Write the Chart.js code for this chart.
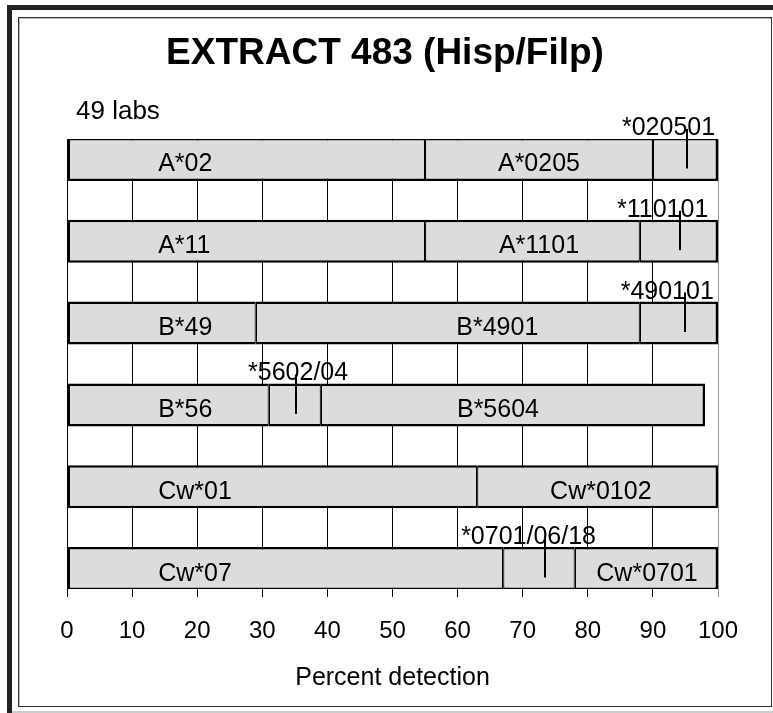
<!doctype html>
<html lang="en">
<head>
<meta charset="UTF-8">
<title>EXTRACT 483 (Hisp/Filp)</title>
<script src="https://cdn.jsdelivr.net/npm/chart.js"></script>
<style>
  html, body { margin: 0; padding: 0; background: #fff; }
  canvas { display: block; }
</style>
</head>
<body>
<canvas id="chart" width="773" height="713"></canvas>
<script>
  const FONT = "'Liberation Sans', Arial, sans-serif";

  const rows = ['A*02', 'A*11', 'B*49', 'B*56', 'Cw*01', 'Cw*07'];
  // three stacked segments per row (percent detection)
  const seg1 = [55, 55, 29, 31, 63, 67];
  const seg2 = [35, 33, 59, 8, 37, 11];
  const seg3 = [10, 12, 12, 59, null, 22];
  const seg1Names = ['A*02', 'A*11', 'B*49', 'B*56', 'Cw*01', 'Cw*07'];
  const seg2Names = ['A*0205', 'A*1101', 'B*4901', '', 'Cw*0102', ''];
  const seg3Names = ['', '', '', 'B*5604', '', 'Cw*0701'];
  // where each name sits on the percent axis (first one left aligned, others centred)
  const seg1NameAt = [14, 14, 14, 14, 14, 14];
  const seg2NameAt = [72.5, 72.5, 66.1, null, 82, null];
  const seg3NameAt = [null, null, null, 66.2, null, 89.1];
  // allele markers above the bars
  const markerAt = [95.3, 94.1, 95.0, 35.2, null, 73.5];
  const markerNames = ['*020501', '*110101', '*490101', '*5602/04', '', '*0701/06/18'];
  const markerNameAt = [92.4, 91.5, 92.2, 35.5, null, 70.9];

  // a blank category between every pair of rows
  const spread = (arr, gap) => arr.flatMap((v, i) => i < arr.length - 1 ? [v, gap] : [v]);
  const labels = spread(rows, '');
  const segs = [seg1, seg2, seg3];

  function borderFor(ctx) {
    const r = ctx.dataIndex / 2;
    const d = ctx.datasetIndex;
    let last = 0;
    segs.forEach((s, k) => { if (s[r] != null) last = k; });
    return { top: 2.5, bottom: 2.5, left: d === 0 ? 2.5 : 1.25, right: d === last ? 2.5 : 1.25 };
  }

  const textPlugin = {
    id: 'texts',
    beforeDraw(chart) {
      const c = chart.ctx;
      c.save();
      c.fillStyle = '#fff';
      c.fillRect(0, 0, chart.width, chart.height);
      // frame
      c.fillStyle = '#222';
      c.fillRect(7, 5, 766, 5);
      c.fillRect(7, 5, 5, 708);
      c.fillStyle = '#ccc';
      c.fillRect(12, 711, 761, 2);
      c.strokeStyle = '#333';
      c.lineWidth = 1;
      c.strokeRect(18.5, 17.5, 753, 689);
      c.strokeStyle = '#bbb';
      c.beginPath();
      c.moveTo(19.5, 18); c.lineTo(19.5, 706);
      c.moveTo(19, 18.5); c.lineTo(771, 18.5);
      c.stroke();
      c.restore();
    },
    afterDatasetsDraw(chart) {
      const c = chart.ctx;
      const x = chart.scales.x;
      c.save();
      c.fillStyle = '#000';
      c.textBaseline = 'alphabetic';
      c.font = 'bold 37px ' + FONT;
      c.textAlign = 'center';
      c.fillText('EXTRACT 483 (Hisp/Filp)', 385, 64);
      c.font = '26px ' + FONT;
      c.textAlign = 'left';
      c.fillText('49 labs', 76, 119);

      c.font = '25px ' + FONT;
      const bar0 = chart.getDatasetMeta(0).data;
      rows.forEach((r, i) => {
        const el = bar0[i * 2];
        const cy = el.y;
        const top = cy - el.height / 2;
        c.textAlign = 'left';
        c.fillText(seg1Names[i], x.getPixelForValue(seg1NameAt[i]), cy + 12);
        c.textAlign = 'center';
        if (seg2NameAt[i] != null) c.fillText(seg2Names[i], x.getPixelForValue(seg2NameAt[i]), cy + 12);
        if (seg3NameAt[i] != null) c.fillText(seg3Names[i], x.getPixelForValue(seg3NameAt[i]), cy + 12);
        if (markerAt[i] != null) {
          c.fillText(markerNames[i], x.getPixelForValue(markerNameAt[i]), top - 3);
          const mx = Math.round(x.getPixelForValue(markerAt[i]));
          c.strokeStyle = '#000';
          c.lineWidth = 2;
          c.beginPath();
          c.moveTo(mx, top - 9);
          c.lineTo(mx, cy + 9);
          c.stroke();
        }
      });
      c.restore();
    }
  };

  new Chart(document.getElementById('chart'), {
    type: 'bar',
    data: {
      labels: labels,
      datasets: segs.map((s) => ({
        data: spread(s, null),
        backgroundColor: '#dcdcdc',
        borderColor: '#000',
        borderWidth: borderFor,
        borderSkipped: false,
        inflateAmount: 0,
        barPercentage: 1,
        categoryPercentage: 1.05
      }))
    },
    options: {
      indexAxis: 'y',
      responsive: false,
      animation: false,
      layout: { padding: { left: 67, right: 55, top: 139, bottom: 0 } },
      plugins: { legend: { display: false }, tooltip: { enabled: false } },
      scales: {
        y: { stacked: true, display: false },
        x: {
          stacked: true,
          min: 0,
          max: 100,
          afterFit(scale) { scale.height = 124; },
          border: { display: false },
          grid: {
            color: (ctx) => ctx.tick && ctx.tick.value === 100 ? '#999' : '#000',
            lineWidth: 1,
            tickLength: 8
          },
          ticks: {
            stepSize: 10,
            color: '#000',
            padding: 20,
            maxRotation: 0,
            font: { family: FONT, size: 24 }
          },
          title: {
            display: true,
            text: 'Percent detection',
            color: '#000',
            font: { family: FONT, size: 25 },
            padding: { top: 0, bottom: 20 }
          }
        }
      }
    },
    plugins: [textPlugin]
  });
</script>
</body>
</html>
